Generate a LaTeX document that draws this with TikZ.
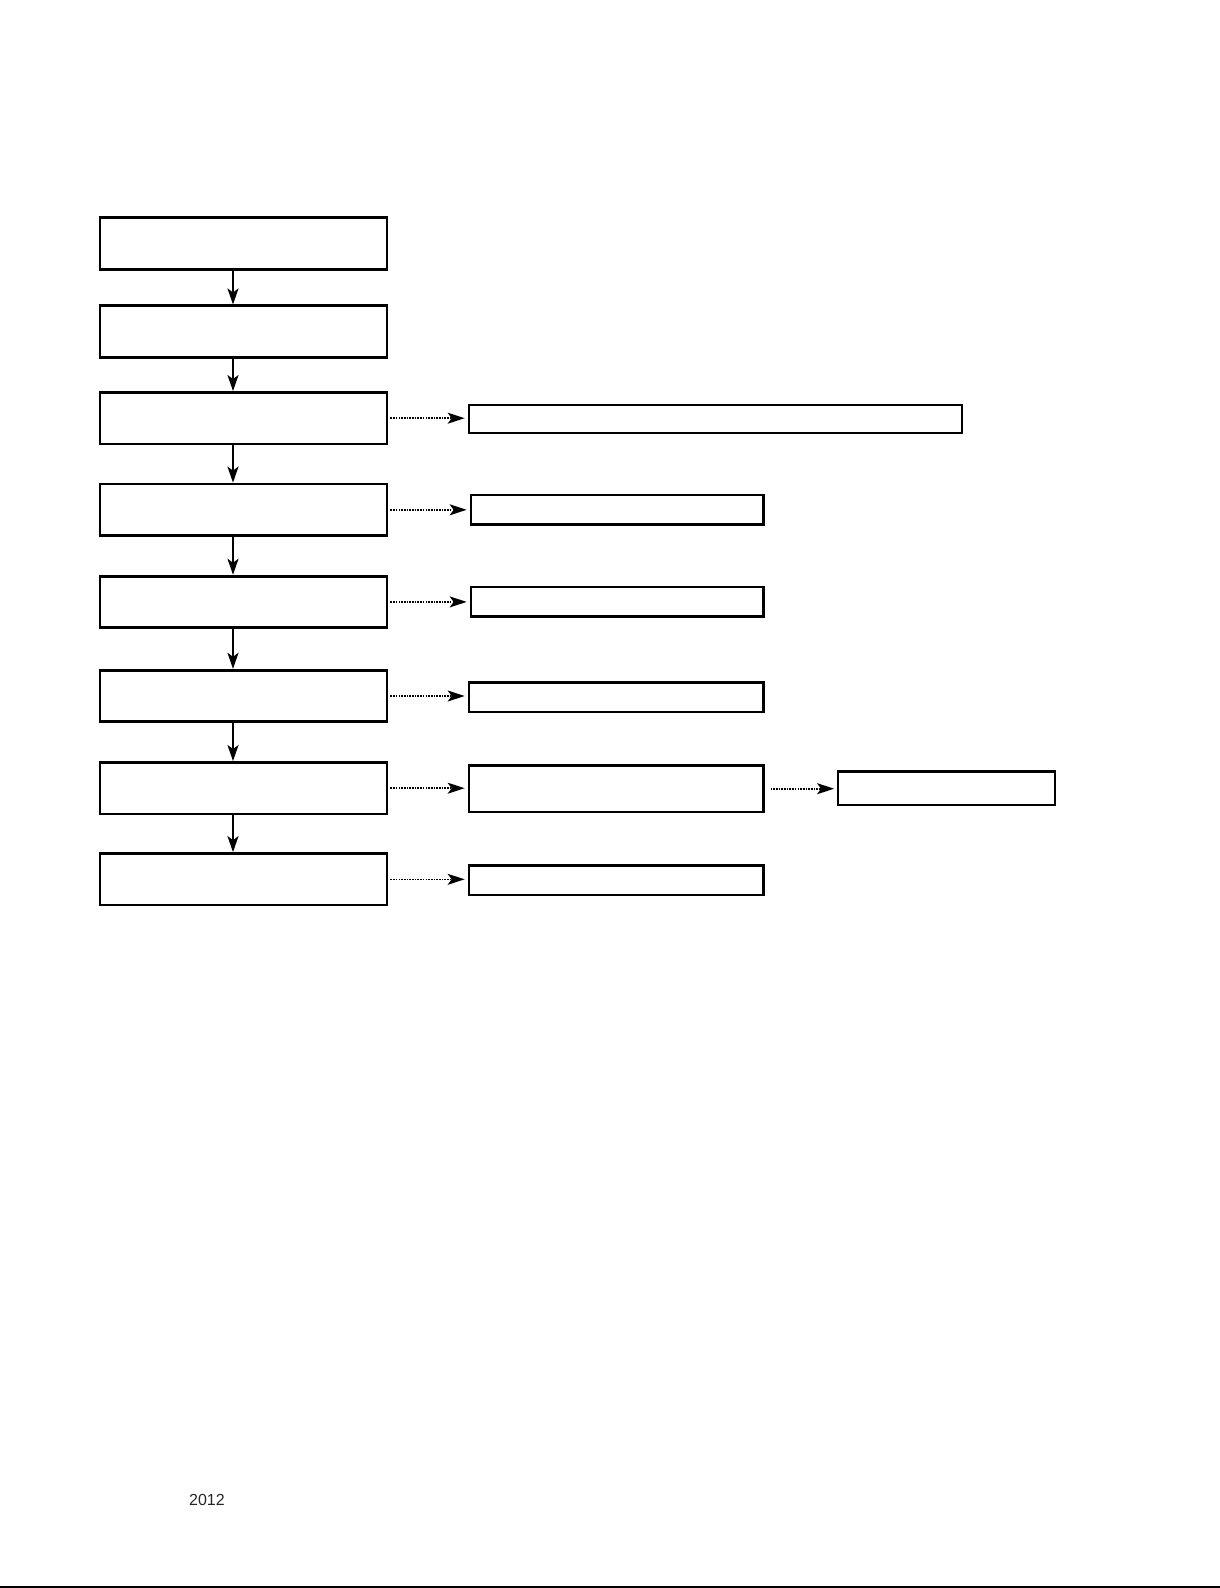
\documentclass[tikz,border=0pt]{standalone}
\usepackage{fontspec}
\setmainfont{Liberation Sans}
\usetikzlibrary{arrows.meta}
\begin{document}
\begin{tikzpicture}[x=1pt,y=-1pt,
  lbox/.style={draw,line width=2.8pt,minimum width=287pt,minimum height=51.5pt,inner sep=0pt,anchor=center},
  rbox/.style={draw,line width=2.3pt,inner sep=0pt,anchor=center},
  arr/.style={line width=2.1pt,-{Stealth[length=16pt,width=11pt,inset=4pt]}},
  darr/.style={line width=1.6pt,dash pattern=on 1.6pt off 1.1pt,-{Stealth[length=17pt,width=11pt,inset=4pt]},shorten <=2pt,shorten >=3pt}]
\useasboundingbox (0,0) rectangle (1220,1588);
\fill[white] (0,0) rectangle (1220,1588);
% left column
\node[lbox] (b1) at (243.5,243.5) {};
\node[lbox] (b2) at (243.5,331.6) {};
\node[lbox] (b3) at (243.5,418.2) {};
\node[lbox] (b4) at (243.5,509.8) {};
\node[lbox] (b5) at (243.5,601.9) {};
\node[lbox] (b6) at (243.5,696.0) {};
\node[lbox] (b7) at (243.5,788.2) {};
\node[lbox] (b8) at (243.5,879.3) {};
% right boxes
\node[rbox,minimum width=493pt,minimum height=28.3pt] (r3) at (715.3,419.1) {};
\node[rbox,minimum width=292.6pt,minimum height=29.4pt] (r4) at (617.1,509.7) {};
\node[rbox,minimum width=292.6pt,minimum height=29.4pt] (r5) at (617.1,601.9) {};
\node[rbox,minimum width=294.6pt,minimum height=29.3pt] (r6) at (616.1,697.0) {};
\node[rbox,minimum width=294.6pt,minimum height=46.6pt] (r7) at (616.1,788.7) {};
\node[rbox,minimum width=216.7pt,minimum height=33.5pt] (r7b) at (946.6,788.3) {};
\node[rbox,minimum width=294.6pt,minimum height=29.4pt] (r8) at (616.1,880.3) {};
% vertical arrows
\foreach \a/\b in {b1/b2,b2/b3,b3/b4,b4/b5,b5/b6,b6/b7,b7/b8}
  \draw[arr] ([xshift=-10.5pt]\a.south) -- ([xshift=-10.5pt]\b.north);
% dotted arrows
\draw[darr] (b3.east) -- (b3.east -| r3.west);
\draw[darr] (b4.east) -- (b4.east -| r4.west);
\draw[darr] (b5.east) -- (b5.east -| r5.west);
\draw[darr] (b6.east) -- (b6.east -| r6.west);
\draw[darr] (b7.east) -- (b7.east -| r7.west);
\draw[darr] ([xshift=4pt]r7.east) -- (r7.east -| r7b.west);
\draw[darr] (b8.east) -- (b8.east -| r8.west);
% footer
\node[anchor=center,font=\fontsize{16}{19}\selectfont,text=black!85] (yr) at (207,1500) {2012};
\coordinate (fl) at (0,1586.5);
\coordinate (fr) at (1220,1586.5);
\draw[line width=2pt] (fl) -- (fr);
\end{tikzpicture}
\end{document}
